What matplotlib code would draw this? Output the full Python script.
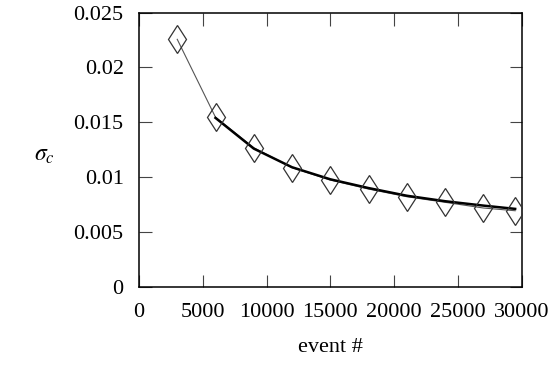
import numpy as np
import matplotlib.pyplot as plt

plt.rcParams['font.family'] = ['Liberation Serif', 'DejaVu Serif']
plt.rcParams['mathtext.fontset'] = 'stix'

# measured sigma_c vs number of events
events = [3000, 6000, 9000, 12000, 15000, 18000, 21000, 24000, 27000, 29500]
sigma = [0.02257, 0.01546, 0.01268, 0.01086, 0.00973, 0.00891, 0.00821, 0.0077, 0.00718, 0.00693]

# fitted curve
fit_x = [6000, 9000, 12000, 15000, 18000, 21000, 24000, 27000, 29500]
fit_y = [0.0154, 0.0126, 0.0109, 0.0098, 0.0090, 0.0083, 0.0078, 0.0074, 0.0071]

fig = plt.figure(figsize=(5.56, 3.66), dpi=100)
ax = fig.add_axes([0.25, 0.2167, 0.688, 0.7486])

ax.plot(events, sigma, color='#555555', lw=0.8, zorder=2)
ax.plot(fit_x, fit_y, color='black', lw=1.8, zorder=3)
ax.plot(events, sigma, ls='none', marker='d', ms=14.5, mfc='none', mec='#333333', mew=0.9, zorder=4)

ax.set_xlim(0, 30000)
ax.set_ylim(0, 0.025)
ax.set_xticks([0, 5000, 10000, 15000, 20000, 25000, 30000])
ax.set_xticklabels(['0', '5000', '10000', '15000', '20000', '25000', '30000'])
ax.set_yticks([0, 0.005, 0.01, 0.015, 0.02, 0.025])
ax.set_yticklabels(['0', '0.005', '0.01', '0.015', '0.02', '0.025'])
ax.tick_params(direction='in', length=9, width=0.8, color='#444444',
               top=True, right=True, labelsize=16)
ax.tick_params(axis='x', pad=12)
ax.tick_params(axis='y', pad=11)
for s in ax.spines.values():
    s.set_linewidth(1.1)

ax.set_xlabel('event #', fontsize=16, labelpad=11)
fig.text(0.08, 0.575, r'$\sigma_c$', fontsize=17, ha='center', va='center')

fig.savefig('out.png', dpi=100)
